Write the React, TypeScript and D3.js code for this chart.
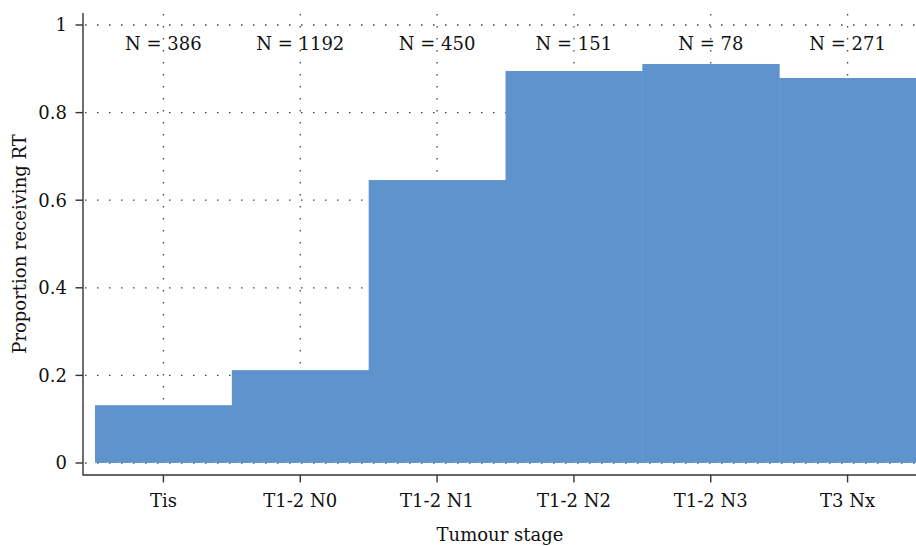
import React from "react";
import * as d3 from "d3";

const categories = ["Tis", "T1-2 N0", "T1-2 N1", "T1-2 N2", "T1-2 N3", "T3 Nx"];
const proportions = [0.132, 0.212, 0.646, 0.895, 0.911, 0.879];
const counts = [386, 1192, 450, 151, 78, 271];
const yTicks = [0, 0.2, 0.4, 0.6, 0.8, 1];
const yTickLabels = ["0", "0.2", "0.4", "0.6", "0.8", "1"];

const W = 916;
const H = 546;
const FONT = "'DejaVu Serif', serif";
const FS = 18;
const AXIS = "#333";
const BAR = "#5e93cb";

export default function App() {
  const axisX = 83;
  const axisBottom = 475;
  const x = d3.scaleBand<string>().domain(categories).range([95, 916]).padding(0);
  const y = d3.scaleLinear().domain([0, 1]).range([463, 25]);
  const bw = x.bandwidth();

  return (
    <svg width={W} height={H} style={{ position: "absolute", left: 0, top: 0, background: "#fff" }}>
      {yTicks.map((t, i) => (
        <line key={"hg" + i} x1={axisX + 2} x2={W} y1={y(t)} y2={y(t)}
          stroke="#444" strokeWidth={1.3} strokeDasharray="1.5 10.5" />
      ))}
      {categories.map((c) => (
        <line key={"vg" + c} x1={x(c)! + bw / 2} x2={x(c)! + bw / 2} y1={14} y2={y(0)}
          stroke="#444" strokeWidth={1.3} strokeDasharray="1.5 10.5" />
      ))}
      {categories.map((c, i) => (
        <rect key={"b" + c} x={x(c)!} width={bw + 0.5} y={y(proportions[i])}
          height={y(0) - y(proportions[i])} fill={BAR} />
      ))}
      <line x1={x(categories[0])!} x2={W} y1={y(0)} y2={y(0)}
        stroke="#d8e4f2" strokeWidth={1.2} strokeDasharray="1.5 10.5" />
      {categories.map((c, i) => (
        <text key={"n" + c} x={x(c)! + bw / 2} y={50} textAnchor="middle"
          fontFamily={FONT} fontSize={FS} fill="#111">
          {"N = " + counts[i]}
        </text>
      ))}
      <line x1={axisX} x2={axisX} y1={13} y2={axisBottom + 0.6} stroke={AXIS} strokeWidth={1.4} />
      {yTicks.map((t, i) => (
        <g key={"yt" + i}>
          <line x1={axisX - 7.5} x2={axisX} y1={y(t)} y2={y(t)} stroke={AXIS} strokeWidth={1.4} />
          <text x={67} y={y(t)} dy="0.35em" textAnchor="end" fontFamily={FONT} fontSize={FS} fill="#111">
            {yTickLabels[i]}
          </text>
        </g>
      ))}
      <line x1={axisX} x2={W} y1={axisBottom} y2={axisBottom} stroke={AXIS} strokeWidth={1.4} />
      {categories.map((c) => (
        <g key={"xt" + c}>
          <line x1={x(c)! + bw / 2} x2={x(c)! + bw / 2} y1={axisBottom} y2={axisBottom + 7.5}
            stroke={AXIS} strokeWidth={1.4} />
          <text x={x(c)! + bw / 2} y={507} textAnchor="middle" fontFamily={FONT} fontSize={FS} fill="#111">
            {c}
          </text>
        </g>
      ))}
      <text x={500} y={541} textAnchor="middle" fontFamily={FONT} fontSize={FS} fill="#111">
        Tumour stage
      </text>
      <text transform={`translate(26,${(25 + 463) / 2}) rotate(-90)`} textAnchor="middle"
        fontFamily={FONT} fontSize={FS} fill="#111">
        Proportion receiving RT
      </text>
    </svg>
  );
}
